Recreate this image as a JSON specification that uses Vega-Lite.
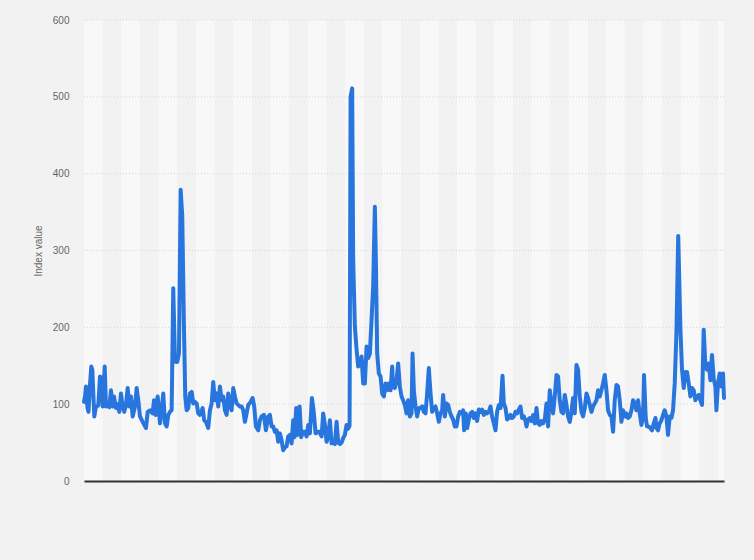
{
  "$schema": "https://vega.github.io/schema/vega-lite/v6.json",
  "width": 640,
  "height": 461,
  "autosize": {"type": "none"},
  "padding": {"left": 84, "top": 20, "right": 30, "bottom": 79},
  "background": "#f2f2f2",
  "config": {"view": {"stroke": null}, "font": "Liberation Sans"},
  "datasets": {
    "bands": [
      {"start": 0, "end": 18.66}, {"start": 37.32, "end": 55.98}, {"start": 74.64, "end": 93.3},
      {"start": 111.96, "end": 130.62}, {"start": 149.28, "end": 167.94}, {"start": 186.6, "end": 205.26},
      {"start": 223.92, "end": 242.58}, {"start": 261.24, "end": 279.9}, {"start": 298.56, "end": 317.22},
      {"start": 335.88, "end": 354.54}, {"start": 373.2, "end": 391.86}, {"start": 410.52, "end": 429.18},
      {"start": 447.84, "end": 466.5}, {"start": 485.16, "end": 503.82}, {"start": 522.48, "end": 541.14},
      {"start": 559.8, "end": 578.46}, {"start": 597.12, "end": 615.78}, {"start": 634.44, "end": 640.3}
    ],
    "grid": [{"value": 100}, {"value": 200}, {"value": 300}, {"value": 400}, {"value": 500}, {"value": 600}],
    "series": [
      {"t":0,"value":103},{"t":1,"value":110},{"t":2,"value":123},{"t":3.5,"value":95},{"t":4.5,"value":90},
      {"t":6,"value":125},{"t":7.3,"value":149},{"t":8.3,"value":145},{"t":10.3,"value":84},{"t":12,"value":97},
      {"t":14.3,"value":98},{"t":16,"value":136},{"t":17.7,"value":134},{"t":18.7,"value":97},{"t":20.7,"value":149},
      {"t":22,"value":97},{"t":24.3,"value":98},{"t":25.3,"value":96},{"t":27,"value":118},{"t":28.7,"value":97},
      {"t":30,"value":110},{"t":32,"value":95},{"t":33.7,"value":100},{"t":35.3,"value":90},{"t":37,"value":114},
      {"t":38.7,"value":97},{"t":40.3,"value":90},{"t":42,"value":99},{"t":43.7,"value":121},{"t":45.3,"value":97},
      {"t":47,"value":110},{"t":48.7,"value":84},{"t":51,"value":97},{"t":52.7,"value":121},{"t":54.3,"value":105},
      {"t":56,"value":84},{"t":58.7,"value":77},{"t":62,"value":69},{"t":63.7,"value":90},{"t":66,"value":92},
      {"t":68.7,"value":88},{"t":70,"value":105},{"t":71.7,"value":86},{"t":73.7,"value":110},{"t":75,"value":92},
      {"t":76,"value":75},{"t":77.7,"value":92},{"t":79.3,"value":114},{"t":81,"value":75},{"t":82.7,"value":71},
      {"t":84.3,"value":86},{"t":86,"value":90},{"t":87.7,"value":92},{"t":89.3,"value":251},{"t":91,"value":158},
      {"t":92,"value":155},{"t":93.3,"value":155},{"t":95,"value":166},{"t":96.7,"value":379},{"t":98.3,"value":345},
      {"t":100,"value":200},{"t":101.3,"value":110},{"t":102.7,"value":92},{"t":104.3,"value":95},{"t":106,"value":114},
      {"t":107.7,"value":116},{"t":109.3,"value":101},{"t":111,"value":103},{"t":112.7,"value":101},{"t":114.3,"value":88},
      {"t":116,"value":86},{"t":118.7,"value":95},{"t":120.3,"value":79},{"t":122,"value":77},{"t":124.3,"value":69},
      {"t":126,"value":92},{"t":127.7,"value":101},{"t":129.3,"value":129},{"t":131,"value":105},{"t":132.7,"value":114},
      {"t":134.3,"value":97},{"t":136,"value":123},{"t":137.7,"value":105},{"t":139.3,"value":110},{"t":141,"value":92},
      {"t":142.7,"value":86},{"t":144.3,"value":114},{"t":146,"value":99},{"t":147.7,"value":92},{"t":149.3,"value":121},
      {"t":151,"value":110},{"t":152.7,"value":101},{"t":156,"value":97},{"t":157.7,"value":97},{"t":159.3,"value":92},
      {"t":161,"value":77},{"t":162.7,"value":88},{"t":164.3,"value":99},{"t":166.7,"value":103},{"t":168.7,"value":108},
      {"t":170.3,"value":97},{"t":172,"value":71},{"t":174.3,"value":66},{"t":176,"value":79},{"t":177.7,"value":84},
      {"t":180,"value":86},{"t":182,"value":66},{"t":184.3,"value":84},{"t":186,"value":86},{"t":187.7,"value":71},
      {"t":189.3,"value":71},{"t":191,"value":64},{"t":192.7,"value":66},{"t":194.3,"value":51},{"t":196,"value":62},
      {"t":197.7,"value":53},{"t":199.3,"value":40},{"t":201,"value":44},{"t":202.7,"value":45},{"t":204.3,"value":58},
      {"t":206,"value":60},{"t":207.7,"value":49},{"t":209.3,"value":79},{"t":210.7,"value":57},{"t":212.3,"value":95},
      {"t":213.7,"value":60},{"t":215.7,"value":97},{"t":217.3,"value":57},{"t":219,"value":64},{"t":221,"value":64},
      {"t":222.7,"value":58},{"t":224.3,"value":73},{"t":226,"value":62},{"t":228,"value":108},{"t":229.7,"value":92},
      {"t":231.7,"value":62},{"t":233.7,"value":64},{"t":235.3,"value":64},{"t":237.7,"value":58},{"t":239.3,"value":88},
      {"t":241,"value":73},{"t":242.7,"value":51},{"t":244.3,"value":58},{"t":246,"value":79},{"t":247.7,"value":49},
      {"t":249.3,"value":50},{"t":251,"value":48},{"t":252.7,"value":77},{"t":254.3,"value":50},{"t":256,"value":48},
      {"t":257.7,"value":50},{"t":259.3,"value":56},{"t":261,"value":60},{"t":262.7,"value":73},{"t":264.3,"value":68},
      {"t":265.7,"value":72},{"t":266.7,"value":500},{"t":268.3,"value":511},{"t":269.3,"value":288},{"t":271,"value":201},
      {"t":272.7,"value":171},{"t":274.3,"value":149},{"t":276,"value":153},{"t":277.7,"value":162},{"t":279.3,"value":127},
      {"t":281,"value":127},{"t":282.7,"value":175},{"t":284.3,"value":160},{"t":286,"value":166},{"t":287.7,"value":210},
      {"t":289.3,"value":253},{"t":291,"value":357},{"t":292,"value":288},{"t":293.3,"value":166},{"t":295,"value":140},
      {"t":296.7,"value":136},{"t":298.3,"value":114},{"t":300,"value":110},{"t":301.7,"value":127},{"t":303.3,"value":118},
      {"t":305,"value":127},{"t":306.7,"value":118},{"t":308.3,"value":149},{"t":309.3,"value":123},{"t":311,"value":121},
      {"t":312.7,"value":131},{"t":314.3,"value":153},{"t":316,"value":123},{"t":317.7,"value":110},{"t":319.3,"value":105},
      {"t":321,"value":99},{"t":322.7,"value":88},{"t":324.3,"value":105},{"t":326,"value":84},{"t":327.7,"value":88},
      {"t":328.7,"value":166},{"t":330,"value":118},{"t":331.7,"value":97},{"t":333.3,"value":84},{"t":335,"value":95},
      {"t":336.7,"value":95},{"t":338.3,"value":97},{"t":340,"value":90},{"t":341.7,"value":88},{"t":343.3,"value":114},
      {"t":345,"value":147},{"t":346.7,"value":114},{"t":348.3,"value":90},{"t":350,"value":95},{"t":351.7,"value":97},
      {"t":353.3,"value":88},{"t":355,"value":77},{"t":356.7,"value":88},{"t":358.3,"value":92},{"t":359.3,"value":112},
      {"t":361,"value":84},{"t":362.7,"value":101},{"t":364.3,"value":99},{"t":366,"value":90},{"t":367.7,"value":84},
      {"t":369.3,"value":80},{"t":371,"value":71},{"t":372.7,"value":71},{"t":374.3,"value":84},{"t":376,"value":90},
      {"t":377.7,"value":88},{"t":379.3,"value":92},{"t":380.3,"value":66},{"t":382,"value":88},{"t":383.3,"value":69},
      {"t":385,"value":80},{"t":386.7,"value":88},{"t":388.3,"value":90},{"t":390,"value":82},{"t":391.7,"value":88},
      {"t":393.3,"value":78},{"t":395,"value":93},{"t":396.7,"value":90},{"t":398.3,"value":93},{"t":400,"value":86},
      {"t":401.7,"value":90},{"t":403.3,"value":88},{"t":405,"value":90},{"t":406.7,"value":97},{"t":408.3,"value":84},
      {"t":410,"value":75},{"t":411.7,"value":66},{"t":413.3,"value":90},{"t":415,"value":99},{"t":416.7,"value":95},
      {"t":418.7,"value":137},{"t":420,"value":101},{"t":421.7,"value":95},{"t":423.3,"value":80},{"t":425,"value":82},
      {"t":426.7,"value":86},{"t":428.3,"value":82},{"t":430,"value":84},{"t":431.7,"value":90},{"t":433.3,"value":88},
      {"t":435,"value":93},{"t":436.7,"value":97},{"t":438.3,"value":82},{"t":440,"value":84},{"t":441.7,"value":78},
      {"t":442.7,"value":71},{"t":444.3,"value":80},{"t":446,"value":82},{"t":447.7,"value":78},{"t":449.3,"value":86},
      {"t":451,"value":75},{"t":452.7,"value":95},{"t":454.3,"value":75},{"t":456,"value":73},{"t":457.7,"value":78},
      {"t":459.3,"value":75},{"t":461,"value":80},{"t":462.7,"value":101},{"t":464.3,"value":71},{"t":466,"value":118},
      {"t":467.7,"value":101},{"t":469.3,"value":88},{"t":471,"value":110},{"t":472.7,"value":138},{"t":474.3,"value":136},
      {"t":476,"value":105},{"t":477.7,"value":90},{"t":479.3,"value":88},{"t":481,"value":112},{"t":482.7,"value":99},
      {"t":484.3,"value":84},{"t":486,"value":77},{"t":487.7,"value":90},{"t":489.3,"value":108},{"t":491,"value":88},
      {"t":492.7,"value":151},{"t":494.3,"value":145},{"t":496,"value":110},{"t":497.7,"value":90},{"t":499.3,"value":84},
      {"t":501,"value":95},{"t":502.7,"value":114},{"t":504.3,"value":108},{"t":506,"value":99},{"t":507.7,"value":90},
      {"t":509.3,"value":97},{"t":511,"value":101},{"t":512.7,"value":105},{"t":514.3,"value":118},{"t":516,"value":110},
      {"t":517.7,"value":118},{"t":519.3,"value":127},{"t":521,"value":138},{"t":522.7,"value":118},{"t":524.3,"value":92},
      {"t":526,"value":86},{"t":527.7,"value":84},{"t":529.3,"value":64},{"t":531,"value":105},{"t":532.7,"value":125},
      {"t":534.3,"value":123},{"t":536,"value":105},{"t":537.7,"value":77},{"t":539.3,"value":92},{"t":541,"value":84},
      {"t":542.7,"value":88},{"t":544.3,"value":82},{"t":546,"value":84},{"t":547.7,"value":92},{"t":549.3,"value":105},
      {"t":551,"value":101},{"t":552.7,"value":92},{"t":554.3,"value":105},{"t":556,"value":88},{"t":557.7,"value":73},
      {"t":559.3,"value":84},{"t":560.3,"value":138},{"t":562,"value":82},{"t":563.3,"value":71},{"t":565,"value":71},
      {"t":566.7,"value":69},{"t":568.3,"value":66},{"t":570,"value":75},{"t":571.7,"value":82},{"t":572.7,"value":69},
      {"t":574.3,"value":66},{"t":576,"value":75},{"t":577.7,"value":79},{"t":579.3,"value":86},{"t":581,"value":92},
      {"t":582.7,"value":84},{"t":584.3,"value":60},{"t":586,"value":84},{"t":587.7,"value":82},{"t":589.3,"value":92},
      {"t":591,"value":127},{"t":592.7,"value":192},{"t":594.5,"value":319},{"t":596.7,"value":197},{"t":598.3,"value":145},
      {"t":600,"value":121},{"t":601.7,"value":142},{"t":603.3,"value":142},{"t":605,"value":127},{"t":606.7,"value":110},
      {"t":608.3,"value":121},{"t":610,"value":118},{"t":611.7,"value":105},{"t":613.3,"value":110},{"t":615,"value":112},
      {"t":616.7,"value":105},{"t":618.3,"value":99},{"t":620,"value":197},{"t":621.7,"value":149},{"t":623.3,"value":145},
      {"t":625,"value":153},{"t":626.7,"value":131},{"t":628.3,"value":164},{"t":630,"value":133},{"t":631.7,"value":123},
      {"t":632.7,"value":92},{"t":634.3,"value":127},{"t":636,"value":140},{"t":637.7,"value":123},{"t":639.3,"value":140},
      {"t":640.3,"value":108}
    ]
  },
  "layer": [
    {
      "data": {"name": "bands"},
      "mark": {"type": "rect", "color": "#f8f8f8"},
      "encoding": {
        "x": {"field": "start", "type": "quantitative",
              "scale": {"domain": [0, 640.3], "nice": false, "zero": false},
              "axis": {"title": null, "labels": false, "ticks": false, "grid": false, "domain": true, "domainColor": "#333333", "domainWidth": 2, "zindex": 1}},
        "x2": {"field": "end"}
      }
    },
    {
      "data": {"name": "grid"},
      "mark": {"type": "rule", "color": "#d6d6d6", "strokeDash": [1, 2], "strokeWidth": 1},
      "encoding": {
        "y": {"field": "value", "type": "quantitative",
              "scale": {"domain": [0, 600], "nice": false},
              "axis": {"title": "Index value", "values": [0, 100, 200, 300, 400, 500, 600], "grid": false, "domain": false, "ticks": false,
                       "labelPadding": 15, "labelFontSize": 10, "labelColor": "#666666",
                       "titleFontSize": 10, "titleFontWeight": "normal", "titleColor": "#666666", "titlePadding": 9}}
      }
    },
    {
      "data": {"name": "series"},
      "mark": {"type": "line", "color": "#2876dd", "strokeWidth": 4, "strokeCap": "round", "strokeJoin": "round"},
      "encoding": {
        "x": {"field": "t", "type": "quantitative",
              "scale": {"domain": [0, 640.3], "nice": false, "zero": false},
              "axis": {"title": null, "labels": false, "ticks": false, "grid": false, "domain": true, "domainColor": "#333333", "domainWidth": 2, "zindex": 1}},
        "y": {"field": "value", "type": "quantitative",
              "scale": {"domain": [0, 600], "nice": false},
              "axis": {"title": "Index value", "values": [0, 100, 200, 300, 400, 500, 600], "grid": false, "domain": false, "ticks": false,
                       "labelPadding": 15, "labelFontSize": 10, "labelColor": "#666666",
                       "titleFontSize": 10, "titleFontWeight": "normal", "titleColor": "#666666", "titlePadding": 9}}
      }
    }
  ]
}
